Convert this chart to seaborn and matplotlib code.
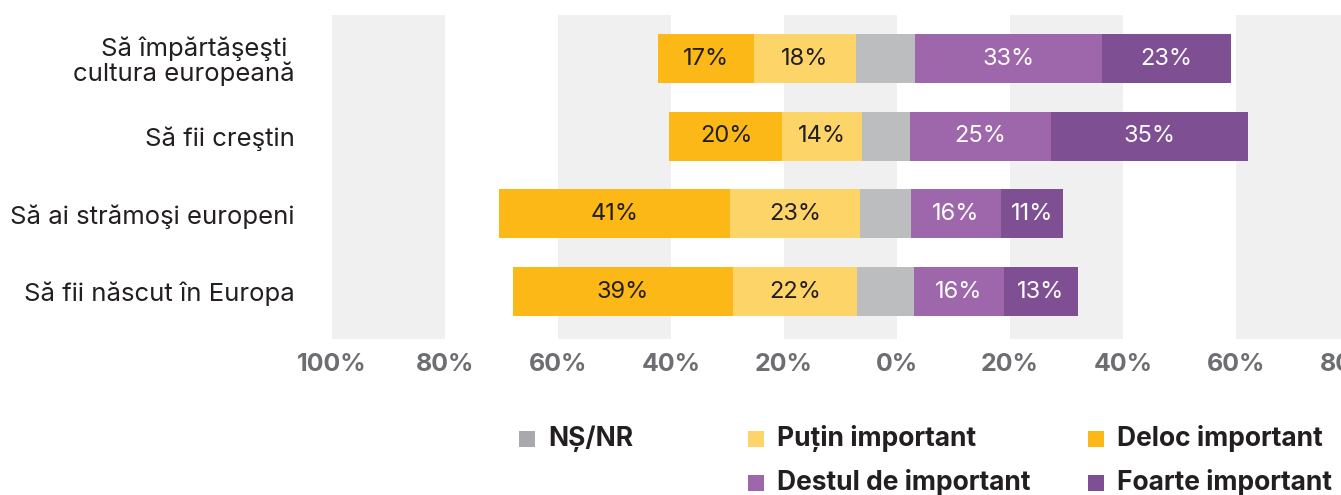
import numpy as np
import pandas as pd
import matplotlib.pyplot as plt
from matplotlib.patches import Rectangle
import seaborn as sns

# data (percent)
items = ["Să împărtăşeşti \ncultura europeană", "Să fii creştin",
         "Să ai strămoşi europeni", "Să fii născut în Europa"]
deloc = [17, 20, 41, 39]
putin = [18, 14, 23, 22]
ns_nr = [10.5, 8.5, 9, 10]
destul = [33, 25, 16, 16]
foarte = [23, 35, 11, 13]

categories = ["NȘ/NR", "Puțin important", "Deloc important",
              "Destul de important", "Foarte important"]
tick_values = [-100, -80, -60, -40, -20, 0, 20, 40, 60, 80]
tick_labels = ["100%", "80%", "60%", "40%", "20%", "0%", "20%", "40%", "60%", "80%"]

bar_colors = {
    "Deloc important": "#fbb817",
    "Puțin important": "#fdd468",
    "NȘ/NR": "#bcbdbf",
    "Destul de important": "#9e67ab",
    "Foarte important": "#7f4f93",
}
legend_colors = dict(bar_colors, **{"NȘ/NR": "#a7a9ac"})
label_colors = {
    "Deloc important": "#231f20",
    "Puțin important": "#231f20",
    "Destul de important": "white",
    "Foarte important": "white",
}

NS_CENTER = -2  # the grey block sits slightly left of 0


def build_frame():
    ns = np.array(ns_nr, dtype=float)
    ns_start = NS_CENTER - ns / 2
    starts = {
        "NȘ/NR": ns_start,
        "Puțin important": ns_start - np.array(putin),
        "Deloc important": ns_start - np.array(putin) - np.array(deloc),
        "Destul de important": ns_start + ns,
        "Foarte important": ns_start + ns + np.array(destul),
    }
    values = {"NȘ/NR": ns_nr, "Puțin important": putin, "Deloc important": deloc,
              "Destul de important": destul, "Foarte important": foarte}
    rows = []
    for cat in categories:
        for i, item in enumerate(items):
            rows.append({"item": item, "category": cat, "value": values[cat][i],
                         "start": starts[cat][i], "label": f"{values[cat][i]:g}%"})
    return pd.DataFrame(rows)


def main():
    df = build_frame()

    sns.set_style("white")
    plt.rcParams["font.family"] = ["Inter", "DejaVu Sans"]

    fig = plt.figure(figsize=(13.41, 4.95), dpi=100)
    ax = fig.add_axes([328 / 1341, 156 / 495, 1032 / 1341, 324 / 495])

    # alternating background bands
    for lo, hi in zip(tick_values[0::2], tick_values[1::2]):
        ax.axvspan(lo, hi, color="#f0f0f0", lw=0, zorder=0)

    for cat in categories:
        sub = df[df["category"] == cat]
        sns.barplot(data=sub, x="value", y="item", order=items, orient="h",
                    color=bar_colors[cat], saturation=1, width=0.63,
                    errorbar=None, left=sub["start"].to_numpy(),
                    linewidth=0, zorder=2, ax=ax)
        if cat in label_colors:
            ax.bar_label(ax.containers[-1], labels=list(sub["label"]),
                         label_type="center", fontsize=17,
                         color=label_colors[cat])

    ax.set_xlim(-100.7, 82)
    ax.set_ylim(3.61, -0.56)
    ax.set_xticks(tick_values)
    ax.set_xticklabels(tick_labels, fontsize=18, fontweight="bold", color="#6d6e71")
    ax.tick_params(axis="x", length=0, pad=10)
    ax.tick_params(axis="y", length=0, pad=24, labelsize=18.5, labelcolor="#231f20")
    for lab in ax.get_yticklabels():
        lab.set_multialignment("right")
        lab.set_linespacing(1.05)
    ax.set_xlabel("")
    ax.set_ylabel("")
    sns.despine(ax=ax, left=True, bottom=True)

    # legend laid out as in the original (two rows)
    slots = {
        "NȘ/NR": (519, 439),
        "Puțin important": (748, 439),
        "Deloc important": (1088, 439),
        "Destul de important": (748, 483),
        "Foarte important": (1088, 483),
    }
    W, H = 1341, 495
    for cat in categories:
        x, y = slots[cat]
        fig.patches.append(Rectangle((x / W, (H - y - 8) / H), 16 / W, 16 / H,
                                     transform=fig.transFigure,
                                     color=legend_colors[cat], lw=0))
        fig.text((x + 29) / W, (H - y) / H, cat, ha="left", va="center",
                 fontsize=19, fontweight="bold", color="#231f20")

    fig.savefig("out.png", dpi=100)
    plt.close(fig)


if __name__ == "__main__":
    main()
